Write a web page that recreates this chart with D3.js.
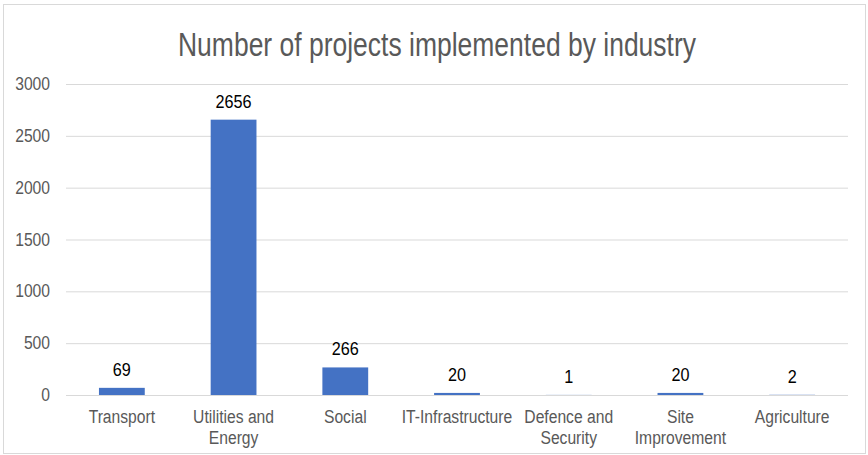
<!DOCTYPE html>
<html>
<head>
<meta charset="utf-8">
<script src="https://cdn.jsdelivr.net/npm/d3@7"></script>
<style>
  html, body { margin: 0; padding: 0; background: #fff; }
  svg { display: block; }
  text { font-family: "Liberation Sans", Arial, sans-serif; }
</style>
</head>
<body>
<svg id="chart" width="868" height="455"></svg>
<script>
// Project counts per industry
const categories = [
  ["Transport"],
  ["Utilities and", "Energy"],
  ["Social"],
  ["IT-Infrastructure"],
  ["Defence and", "Security"],
  ["Site", "Improvement"],
  ["Agriculture"]
];
const projects = [69, 2656, 266, 20, 1, 20, 2];
const yTicks = [0, 500, 1000, 1500, 2000, 2500, 3000];
const title = "Number of projects implemented by industry";

const W = 868, H = 455;
const margin = { left: 66, right: 20, top: 84, bottom: 60 };
const svg = d3.select("#chart");

// condensed text: a group placed at (x, y) and squeezed horizontally
function narrowText(parent, px, py, sx, anchor) {
  return parent.append("g")
    .attr("transform", `translate(${px},${py}) scale(${sx},1)`)
    .append("text")
    .attr("text-anchor", anchor);
}

// outer frame
svg.append("rect")
  .attr("x", 3.5).attr("y", 4.5)
  .attr("width", W - 6).attr("height", H - 6)
  .attr("fill", "#fff").attr("stroke", "#d9d9d9").attr("stroke-width", 1);

const x = d3.scaleBand()
  .domain(d3.range(categories.length))
  .range([margin.left, W - margin.right])
  .paddingInner(0.59).paddingOuter(0.295);

const y = d3.scaleLinear()
  .domain([0, 3000])
  .range([H - margin.bottom, margin.top]);

// title
svg.append("text")
  .attr("x", 178)
  .attr("y", 56)
  .attr("fill", "#595959")
  .attr("font-size", 34)
  .attr("textLength", 518)
  .attr("lengthAdjust", "spacingAndGlyphs")
  .text(title);

// gridlines
const yAxis = d3.axisLeft(y)
  .tickValues(yTicks)
  .tickSize(-(W - margin.left - margin.right))
  .tickFormat("");
const gy = svg.append("g")
  .attr("transform", `translate(${margin.left},0)`)
  .call(yAxis);
gy.select(".domain").remove();
gy.selectAll(".tick line").attr("stroke", "#d9d9d9");

// y labels
yTicks.forEach(v => {
  narrowText(svg, 50, y(v) + 6, 0.87, "end")
    .attr("fill", "#595959")
    .attr("font-size", 18)
    .text(d3.format("d")(v));
});

// bars
svg.append("g").selectAll("rect")
  .data(projects)
  .join("rect")
  .attr("x", (d, i) => x(i))
  .attr("y", d => y(d))
  .attr("width", x.bandwidth())
  .attr("height", d => y(0) - y(d))
  .attr("fill", "#4472c4");

// value labels
projects.forEach((v, i) => {
  narrowText(svg, x(i) + x.bandwidth() / 2, y(v) - 12, 0.9, "middle")
    .attr("fill", "#000")
    .attr("font-size", 18)
    .text(v);
});

// category labels
categories.forEach((lines, i) => {
  lines.forEach((line, k) => {
    narrowText(svg, x(i) + x.bandwidth() / 2, y(0) + 28 + k * 21, 0.87, "middle")
      .attr("fill", "#595959")
      .attr("font-size", 18)
      .text(line);
  });
});
</script>
</body>
</html>
